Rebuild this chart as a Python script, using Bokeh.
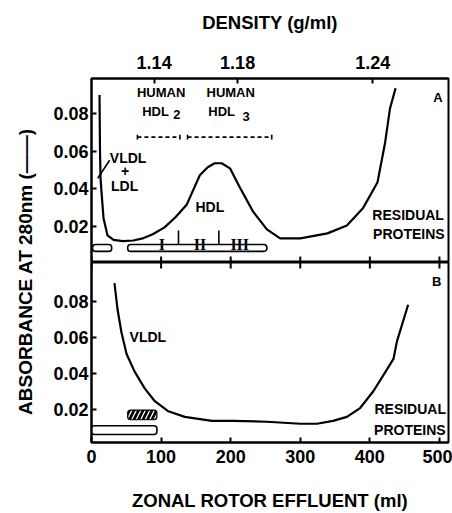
from math import pi
from bokeh.plotting import figure
from bokeh.models import FixedTicker, Label, Range1d, PrintfTickFormatter
from bokeh.layouts import row, column
from bokeh.embed import file_html
from bokeh.resources import INLINE

# ---------------- data ----------------
# Panel A: absorbance profile (ml, A280)
curve_a_ml = [11.5, 12.2, 13, 14.4, 17.3, 23, 31.7, 45, 60, 75, 88, 105, 121, 137, 155.6, 167,
              177, 187, 199, 213, 232, 252, 271, 300, 339, 367, 390, 411, 422, 429, 437]
curve_a_abs = [0.0899, 0.0605, 0.0456, 0.0381, 0.0243, 0.0152, 0.0128, 0.0122, 0.0125, 0.0138, 0.0158,
               0.0195, 0.0250, 0.0317, 0.0472, 0.0515, 0.0536, 0.0536, 0.0509, 0.0408, 0.0280,
               0.0184, 0.0136, 0.0136, 0.0163, 0.0205, 0.0296, 0.0435, 0.0648, 0.0829, 0.0936]
# Panel B
curve_b_ml = [33, 37.5, 43, 50.4, 62, 76.4, 91, 109.5, 134, 173, 203, 252, 300, 324, 347, 367,
              386, 405, 419, 434, 439, 455]
curve_b_abs = [0.0899, 0.0752, 0.0627, 0.0507, 0.0409, 0.0316, 0.0245, 0.0191, 0.0158, 0.0136,
               0.0136, 0.0131, 0.0120, 0.0120, 0.0136, 0.0158, 0.0207, 0.0300, 0.0387, 0.0480,
               0.0578, 0.0780]

x_ticks = [0, 100, 200, 300, 400, 500]
y_ticks = [0.02, 0.04, 0.06, 0.08]
density_ml = [90, 210, 404]
density_labels = ["1.14", "1.18", "1.24"]

# HDL2 / HDL3 ranges (ml)
hdl_sub = ["2", "3"]
hdl_start = [66, 138]
hdl_end = [127, 259]
hdl_level = 0.0675

# pooled fractions (bars) panel A
bars_a_start = [1.5, 52]
bars_a_end = [29, 252]
# fraction markers on bar 2
frac_ml = [101, 156, 213]
frac_names = ["I", "II", "III"]
sep_ml = [125, 183]
# panel B bars
bar_b_start = [0]
bar_b_end = [94]
hatch_b_start = [52]
hatch_b_end = [94]

FONT = "Liberation Sans"
TICK_SIZE = "18px"
LAB_SIZE = "18.5px"

W_LEFT = 45
W = 452 - W_LEFT
XR = (0, 513)
YA = (0.0008, 0.0987)
YB = (0.0016, 0.1014)


def style_axis(ax):
    ax.major_tick_in = 5
    ax.major_tick_out = 0
    ax.minor_tick_line_color = None
    ax.axis_line_width = 2
    ax.axis_line_color = "black"
    ax.major_tick_line_width = 2
    ax.major_tick_line_color = "black"
    ax.major_label_text_font = FONT
    ax.major_label_text_font_style = "bold"
    ax.major_label_text_font_size = TICK_SIZE
    ax.major_label_text_color = "black"
    ax.axis_label_text_font = FONT
    ax.axis_label_text_font_style = "bold"
    ax.axis_label_text_font_size = LAB_SIZE
    ax.axis_label_text_color = "black"


def lab(p, x, y, text, size, font=FONT, baseline="middle"):
    p.add_layout(Label(x=x, y=y, text=text, text_font=font, text_font_style="bold",
                       text_font_size=size, text_align="center", text_baseline=baseline,
                       text_color="black"))


def base_fig(height, yr, top, bottom, xloc):
    p = figure(width=W, height=height, x_range=Range1d(*XR), y_range=Range1d(*yr),
               output_backend="svg", toolbar_location=None, x_axis_location=xloc,
               min_border_left=91 - W_LEFT, min_border_right=4,
               min_border_top=top, min_border_bottom=bottom)
    p.grid.visible = False
    p.outline_line_color = "black"
    p.outline_line_width = 2
    p.background_fill_color = "white"
    p.border_fill_color = "white"
    ya = p.yaxis[0]
    style_axis(ya)
    ya.ticker = FixedTicker(ticks=y_ticks)
    ya.formatter = PrintfTickFormatter(format="%.2f")
    ya.major_label_standoff = 3
    return p


# ---------------- panel A ----------------
pA = base_fig(262, YA, 78, 0, "above")
xa = pA.xaxis[0]
style_axis(xa)
xa.ticker = FixedTicker(ticks=density_ml)
xa.major_label_overrides = {m: l for m, l in zip(density_ml, density_labels)}
xa.major_label_standoff = 10
xa.axis_label = "DENSITY (g/ml)"
xa.axis_label_standoff = 20
# inward ml ticks on the shared border (bottom of A)
pA.segment(x0=x_ticks, x1=x_ticks, y0=YA[0], y1=YA[0] + 6 / 1875,
           line_color="black", line_width=2)

pA.line(curve_a_ml, curve_a_abs, line_color="black", line_width=2.2)

# pooled fraction bars
pA.quad(left=bars_a_start, right=bars_a_end, bottom=0.0067, top=0.0104,
        fill_color="white", line_color="black", line_width=1.6, border_radius=3)
for m, n in zip(frac_ml, frac_names):
    lab(pA, m, 0.0106, n, "16px", font="Liberation Serif", baseline="alphabetic")
pA.segment(x0=sep_ml, x1=sep_ml, y0=0.0106, y1=0.0178, line_color="black", line_width=1.6)

# HDL2 / HDL3 dashed brackets
pA.segment(x0=hdl_start, x1=hdl_end, y0=hdl_level, y1=hdl_level,
           line_color="black", line_width=1.6, line_dash="4 3")
ends = hdl_start + hdl_end
pA.segment(x0=ends, x1=ends, y0=hdl_level - 0.0013, y1=hdl_level + 0.0013,
           line_color="black", line_width=1.6)

for xs, xh, xsub, sub, ysub in [(100, 92, 122.5, hdl_sub[0], 0.0797), (200, 187, 222, hdl_sub[1], 0.0787)]:
    lab(pA, xs, 0.0912, "HUMAN", "13px")
    lab(pA, xh, 0.0811, "HDL", "13px")
    lab(pA, xsub, ysub, sub, "13px")

lab(pA, 498, 0.0888, "A", "13px")
lab(pA, 52.6, 0.0565, "VLDL", "14px")
lab(pA, 48.3, 0.0493, "+", "14px")
lab(pA, 47.6, 0.0416, "LDL", "14px")
pA.segment(x0=[26], x1=[9], y0=[0.0552], y1=[0.0456], line_color="black", line_width=1.6)
lab(pA, 170, 0.0301, "HDL", "14px")
lab(pA, 455, 0.0259, "RESIDUAL", "14px")
lab(pA, 456, 0.0160, "PROTEINS", "14px")

# ---------------- panel B ----------------
pB = base_fig(251, YB, 0, 68, "below")
xb = pB.xaxis[0]
style_axis(xb)
xb.ticker = FixedTicker(ticks=x_ticks)
xb.major_label_standoff = 7
xb.axis_label = "ZONAL ROTOR EFFLUENT (ml)"
xb.axis_label_standoff = 24
# inward ml ticks on the shared border (top of B)
pB.segment(x0=x_ticks, x1=x_ticks, y0=YB[1], y1=YB[1] - 6 / 1835,
           line_color="black", line_width=2)

pB.line(curve_b_ml, curve_b_abs, line_color="black", line_width=2.2)
pB.quad(left=bar_b_start, right=bar_b_end, bottom=0.0060, top=0.0109,
        fill_color="white", line_color="black", line_width=1.6, border_radius=3)
pB.quad(left=hatch_b_start, right=hatch_b_end, bottom=0.0142, top=0.0196,
        fill_color="black", line_color="black", line_width=1.2, border_radius=3,
        hatch_pattern="/", hatch_color="white", hatch_scale=9, hatch_weight=1.3)

lab(pB, 496, 0.0910, "B", "13px")
lab(pB, 81, 0.0602, "VLDL", "14px")
lab(pB, 458, 0.0202, "RESIDUAL", "14px")
lab(pB, 457.5, 0.0087, "PROTEINS", "14px")

# ---------------- shared y label ----------------
p0 = figure(width=W_LEFT, height=513, x_range=Range1d(0, 1), y_range=Range1d(0, 1),
            output_backend="svg", toolbar_location=None, x_axis_location=None,
            y_axis_location=None, min_border=0)
p0.grid.visible = False
p0.outline_line_color = None
p0.add_layout(Label(x=25, y=513 - 271, x_units="screen", y_units="screen",
                    text="ABSORBANCE AT 280nm (——)", angle=pi / 2, text_font=FONT,
                    text_font_style="bold", text_font_size="19px", text_align="center",
                    text_baseline="middle", text_color="black"))

layout = row(p0, column(pA, pB))
open("out.html", "w").write(file_html(layout, INLINE))
